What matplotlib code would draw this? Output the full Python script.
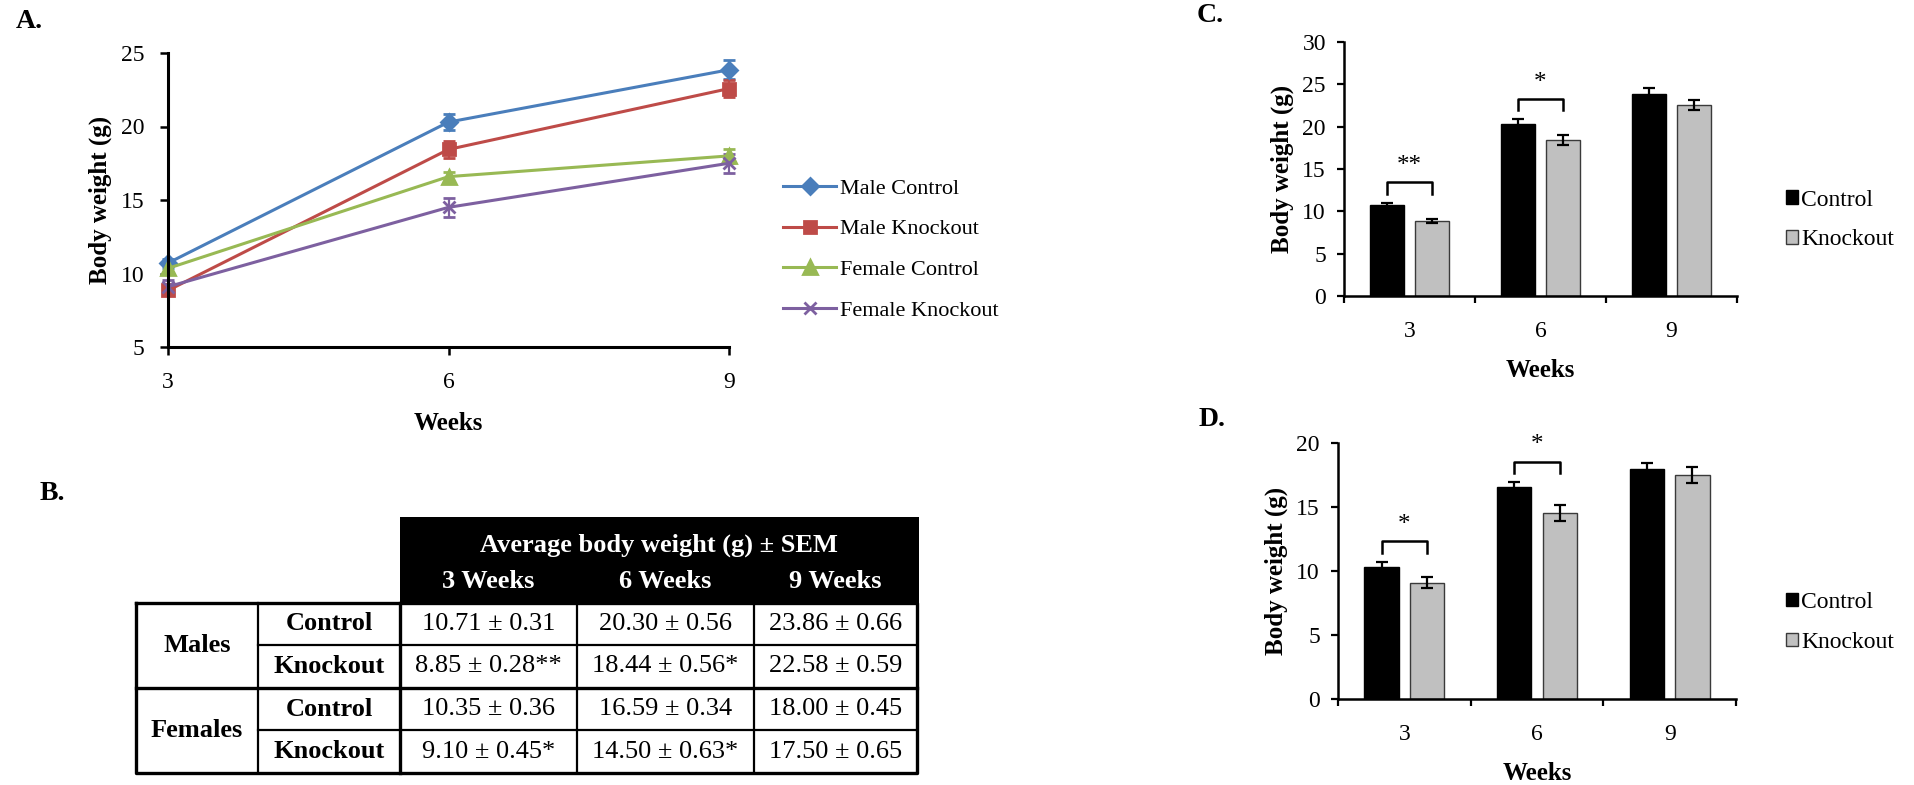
import matplotlib
matplotlib.use('Agg')
import matplotlib.pyplot as plt
import matplotlib.patches as mpatches
from matplotlib.lines import Line2D
import numpy as np

plt.rcParams['font.family'] = ['Liberation Serif', 'DejaVu Serif']

# data (mean body weight in g, +- SEM)
weeks = [3, 6, 9]
male_ctrl = [10.71, 20.30, 23.86]
male_ctrl_sem = [0.31, 0.56, 0.66]
male_ko = [8.85, 18.44, 22.58]
male_ko_sem = [0.28, 0.56, 0.59]
female_ctrl = [10.35, 16.59, 18.00]
female_ctrl_sem = [0.36, 0.34, 0.45]
female_ko = [9.10, 14.50, 17.50]
female_ko_sem = [0.45, 0.63, 0.65]
male_sig = ['**', '*', '']
female_sig = ['*', '*', '']

W, H = 1914, 785
fig = plt.figure(figsize=(W / 100, H / 100), dpi=100)


def px_axes(left, top, right, bottom):
    return fig.add_axes([left / W, 1 - bottom / H, (right - left) / W, (bottom - top) / H])


def style_spines(ax, lw):
    ax.spines['top'].set_visible(False)
    ax.spines['right'].set_visible(False)
    ax.spines['left'].set_linewidth(lw)
    ax.spines['bottom'].set_linewidth(lw)


# ---------------- Panel A: line plot ----------------
axA = px_axes(168, 53, 729, 347)
series = [
    ('Male Control', male_ctrl, male_ctrl_sem, '#4A7EBB', 'D', 8),
    ('Male Knockout', male_ko, male_ko_sem, '#BE4B48', 's', 9),
    ('Female Control', female_ctrl, female_ctrl_sem, '#98B954', '^', 10),
    ('Female Knockout', female_ko, female_ko_sem, '#7D60A0', 'x', 9),
]
handles = []
for lab, m, s, c, mk, ms in series:
    eb = axA.errorbar(weeks, m, yerr=s, color=c, marker=mk, ms=ms, mew=2, lw=2.2,
                      capsize=4.5, capthick=1.6, elinewidth=1.6)
    for art in eb.get_children():
        art.set_clip_on(False)
    handles.append(Line2D([], [], color=c, marker=mk, ms=ms, mew=2, lw=2.2, label=lab))

axA.set_xlim(3, 9)
axA.set_ylim(5, 25)
axA.set_xticks(weeks)
axA.set_yticks([5, 10, 15, 20, 25])
style_spines(axA, 2.2)
axA.tick_params(axis='both', direction='out', length=6, width=1.8, labelsize=17)
axA.tick_params(axis='y', pad=11)
axA.tick_params(axis='x', pad=12)
axA.set_xlabel('Weeks', fontsize=18, fontweight='bold', labelpad=14)
axA.set_ylabel('Body weight (g)', fontsize=18, fontweight='bold', labelpad=6)
axA.legend(handles=handles, loc='center left', bbox_to_anchor=(783 / W, 1 - 249.5 / H),
           bbox_transform=fig.transFigure, frameon=False, fontsize=16,
           handlelength=2.4, handletextpad=0.15, labelspacing=0.9,
           borderpad=0, borderaxespad=0)


# ---------------- Panels C and D: bar charts ----------------
def bar_panel(ax, ctrl, ctrl_sem, ko, ko_sem, sig, ymax, leg_y):
    x = np.arange(len(weeks))
    off, bw = 0.172, 0.26
    err = dict(elinewidth=1.6, capthick=1.6, ecolor='black')
    ax.bar(x - off, ctrl, bw, yerr=ctrl_sem, color='black', edgecolor='black',
           capsize=4.5, error_kw=err)
    ax.bar(x + off, ko, bw, yerr=ko_sem, color='#C0C0C0', edgecolor='#3A3A3A',
           linewidth=1, capsize=4.5, error_kw=err)
    for i, s in enumerate(sig):
        if not s:
            continue
        top = max(ctrl[i] + ctrl_sem[i], ko[i] + ko_sem[i])
        y0 = top + 0.035 * ymax
        y1 = y0 + 0.045 * ymax
        ax.plot([i - off, i - off, i + off, i + off], [y0, y1, y1, y0],
                color='black', lw=1.8, clip_on=False)
        ax.annotate(s, (i, y1), xytext=(0, 4), textcoords='offset points',
                    ha='center', va='bottom', fontsize=18, annotation_clip=False)
    ax.set_xlim(-0.5, len(weeks) - 0.5)
    ax.set_ylim(0, ymax)
    ax.set_xticks(np.arange(len(weeks) + 1) - 0.5)
    ax.set_xticklabels([])
    ax.set_xticks(x, labels=[str(w) for w in weeks], minor=True)
    ax.set_yticks(np.arange(0, ymax + 1, 5))
    style_spines(ax, 1.8)
    ax.tick_params(axis='both', which='major', direction='out', length=5, width=1.6,
                   labelsize=17)
    ax.tick_params(axis='y', pad=8)
    ax.tick_params(axis='x', which='minor', length=0, labelsize=17, pad=18)
    ax.set_xlabel('Weeks', fontsize=18, fontweight='bold', labelpad=12)
    ax.set_ylabel('Body weight (g)', fontsize=18, fontweight='bold', labelpad=6)
    leg_handles = [mpatches.Patch(facecolor='black', edgecolor='black', label='Control'),
                   mpatches.Patch(facecolor='#C0C0C0', edgecolor='#3A3A3A', label='Knockout')]
    ax.legend(handles=leg_handles, loc='center left', bbox_to_anchor=(1786 / W, leg_y),
              bbox_transform=fig.transFigure, frameon=False, fontsize=17,
              handlelength=0.5, handleheight=0.5, handletextpad=0.15,
              labelspacing=0.8, borderpad=0, borderaxespad=0)


axC = px_axes(1344, 42, 1737, 296)
bar_panel(axC, male_ctrl, male_ctrl_sem, male_ko, male_ko_sem, male_sig, 30, 1 - 220 / H)
axD = px_axes(1338, 443, 1736, 699)
bar_panel(axD, female_ctrl, female_ctrl_sem, female_ko, female_ko_sem, female_sig, 20,
          1 - 622.5 / H)

# ---------------- Panel B: table ----------------
tab = fig.add_axes([0, 0, 1, 1])
tab.set_xlim(0, W)
tab.set_ylim(H, 0)
tab.axis('off')

cols = [136, 258, 400, 577, 754, 917]
rows = [603, 645, 688, 730, 773]
tab.add_patch(mpatches.Rectangle((cols[2], 517), cols[5] + 2 - cols[2], rows[0] - 517,
                                 facecolor='black', edgecolor='none'))
tab.text((cols[2] + cols[5]) / 2, 545, 'Average body weight (g) \u00b1 SEM', color='white',
         fontsize=19, fontweight='bold', ha='center', va='center')
for j, w in enumerate(weeks):
    tab.text((cols[j + 2] + cols[j + 3]) / 2, 582, f'{w} Weeks', color='white',
             fontsize=19, fontweight='bold', ha='center', va='center')

thick, thin = 2.4, 1.6
tab.plot([cols[0], cols[5], cols[5], cols[0], cols[0]],
         [rows[0], rows[0], rows[4], rows[4], rows[0]], color='black', lw=thick)
tab.plot([cols[0], cols[5]], [rows[2], rows[2]], color='black', lw=thick)
tab.plot([cols[2], cols[2]], [rows[0], rows[4]], color='black', lw=thick)
tab.plot([cols[1], cols[1]], [rows[0], rows[4]], color='black', lw=thin)
for cx in cols[3:5]:
    tab.plot([cx, cx], [rows[0], rows[4]], color='black', lw=thin)
for ry in (rows[1], rows[3]):
    tab.plot([cols[1], cols[5]], [ry, ry], color='black', lw=thin)

table_rows = [
    (male_ctrl, male_ctrl_sem, ['', '', '']),
    (male_ko, male_ko_sem, male_sig),
    (female_ctrl, female_ctrl_sem, ['', '', '']),
    (female_ko, female_ko_sem, female_sig),
]
for r, (means, sems, sigs) in enumerate(table_rows):
    yc = (rows[r] + rows[r + 1]) / 2
    tab.text((cols[1] + cols[2]) / 2, yc, 'Control' if r % 2 == 0 else 'Knockout',
             fontsize=19, fontweight='bold', ha='center', va='center')
    for j in range(len(weeks)):
        tab.text((cols[j + 2] + cols[j + 3]) / 2, yc,
                 f'{means[j]:.2f} \u00b1 {sems[j]:.2f}{sigs[j]}',
                 fontsize=19, ha='center', va='center')
for g, name in enumerate(['Males', 'Females']):
    tab.text((cols[0] + cols[1]) / 2, (rows[2 * g] + rows[2 * g + 2]) / 2, name,
             fontsize=19, fontweight='bold', ha='center', va='center')

# panel letters
for lab, x, y in [('A.', 29, 21), ('B.', 52, 493), ('C.', 1210, 15), ('D.', 1212, 419)]:
    fig.text(x / W, 1 - y / H, lab, fontsize=20, fontweight='bold', ha='center', va='center')

fig.savefig('out.png', dpi=100)
